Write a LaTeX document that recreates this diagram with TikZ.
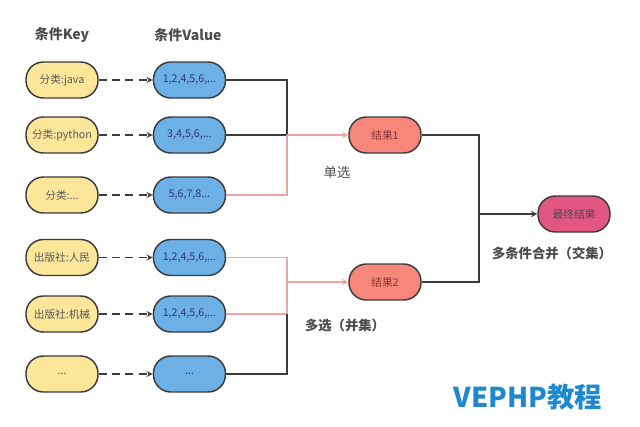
\documentclass[tikz,border=0pt]{standalone}
\usepackage{fontspec}
\setmainfont{Noto Sans CJK SC}
\usepackage{xcolor}
\usepackage{tikz}
\usetikzlibrary{arrows,arrows.meta,positioning,calc}

\definecolor{keyfill}{HTML}{FBE69A}
\definecolor{valfill}{HTML}{6CB0E6}
\definecolor{resfill}{HTML}{F7877A}
\definecolor{finfill}{HTML}{E25683}
\definecolor{linedark}{HTML}{3C3C3C}
\definecolor{linepink}{HTML}{F0A3A6}
\definecolor{markblue}{HTML}{1E88D0}

\begin{document}
\begin{tikzpicture}[x=0.75pt, y=-0.75pt,
        box/.style={draw=linedark, line width=1.1pt, rectangle, rounded corners=13pt,
            minimum height=27pt, minimum width=54pt, align=center, inner sep=1pt, font=\fontsize{8}{9}\selectfont},
        keybox/.style={box, fill=keyfill, text=black!65},
        valbox/.style={box, fill=valfill, text=blue!40!black!80},
        resbox/.style={box, fill=resfill, text=red!40!black!80},
        finbox/.style={box, fill=finfill, text=black!70},
        blk/.style={draw=linedark, line width=1.1pt},
        pnk/.style={draw=linepink, line width=1.1pt},
        lbl/.style={text=black!70, font=\fontsize{10}{12}\selectfont},
        >=stealth
    ]
        \useasboundingbox (0,0) rectangle (640,426);

        % headers
        \node [lbl, font=\bfseries\fontsize{10.5}{12}\selectfont] (hkey) at (62,35) {条件Key};
        \node [lbl, font=\bfseries\fontsize{10.5}{12}\selectfont] (hval) at (188,35) {条件Value};

        % keys
        \node [keybox] (k1) at (62,80) {分类:java};
        \node [keybox] (k2) at (62,135) {分类:python};
        \node [keybox] (k3) at (62,195) {分类:...};
        \node [keybox] (k4) at (62,257.5) {出版社:人民};
        \node [keybox] (k5) at (62,314) {出版社:机械};
        \node [keybox] (k6) at (62,374) {...};

        % values
        \node [valbox, right=40.5pt of k1] (v1) {1,2,4,5,6,...};
        \node [valbox, right=40.5pt of k2] (v2) {3,4,5,6,...};
        \node [valbox, right=40.5pt of k3] (v3) {5,6,7,8...};
        \node [valbox, right=40.5pt of k4] (v4) {1,2,4,5,6,...};
        \node [valbox, right=40.5pt of k5] (v5) {1,2,4,5,6,...};
        \node [valbox, right=40.5pt of k6] (v6) {...};

        % results
        \node [resbox] (r1) at (385,135) {结果1};
        \node [resbox] (r2) at (385,282) {结果2};
        \node [finbox] (fin) at (574,214) {最终结果};

        \node [coordinate] (j1) at (287,135) {};
        \node [coordinate] (j2) at (287,282) {};
        \node [coordinate] (j3) at (479,214) {};
        \node [coordinate] (j2b) at (j2 |- v5) {};

        \foreach \i in {1,...,6}
            \draw [->, dashed, linedark, line width=1.1pt, dash pattern=on 6pt off 4pt] (k\i) -- (v\i);

        \draw [blk] (v1.east) -| (j1);
        \draw [blk] (v2.east) -- (j1);
        \draw [pnk] (v3.east) -| (j1);
        \draw [pnk, ->] (j1) -- (r1);

        \draw [pnk] (v4.east) -| (j2);
        \draw [pnk] (v5.east) -| (j2);
        \draw [blk] (v6.east) -| (j2b);
        \draw [pnk, ->] (j2) -- (r2);

        \draw [blk] (r1.east) -| (j3);
        \draw [blk] (r2.east) -| (j3);
        \draw [blk, ->] (j3) -- (fin);

        \node [lbl] (single) at (337,172) {单选};
        \node [lbl, font=\bfseries\fontsize{10}{12}\selectfont] (multi) at (345,325) {多选（并集）};
        \node [lbl, font=\bfseries\fontsize{10}{12}\selectfont] (merge) at (552,253) {多条件合并（交集）};

        \node [text=markblue, font=\bfseries\fontsize{20.5}{24}\selectfont] (mark) at (528,397) {VEPHP教程};
    \end{tikzpicture}
\end{document}
